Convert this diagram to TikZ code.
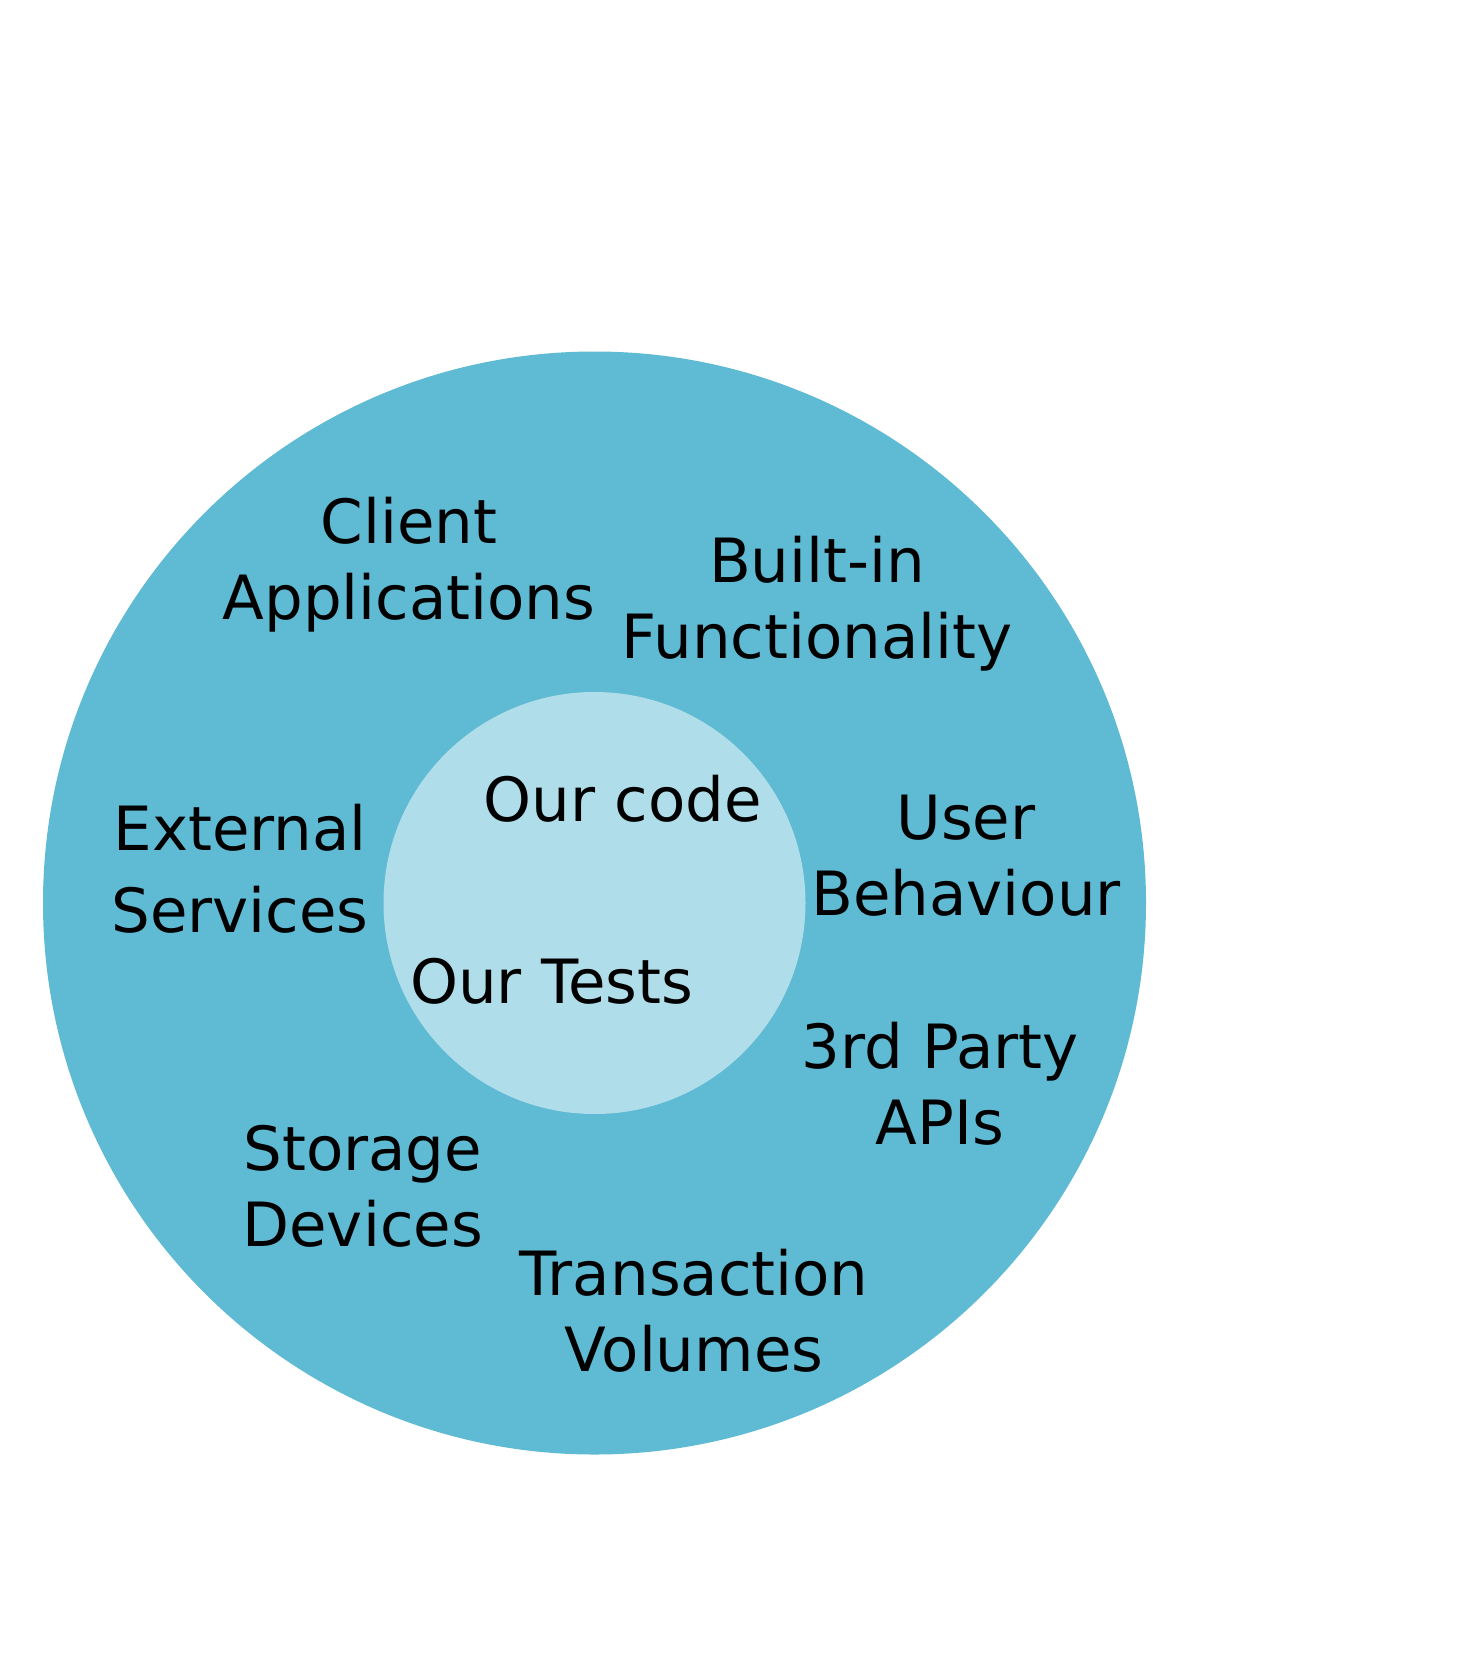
\documentclass[tikz,border=0pt]{standalone}
\usepackage{fontspec}
\setmainfont{DejaVu Sans}
\definecolor{ringblue}{HTML}{5FBAD3}
\definecolor{coreblue}{HTML}{AFDDE9}
\begin{document}
\begin{tikzpicture}[x=0.5pt,y=-0.5pt,
    every node/.style={font=\fontsize{30.5}{38}\selectfont,align=center,anchor=base,inner sep=0pt}]
  \useasboundingbox (0,0) rectangle (1457,1654);
  \fill[ringblue] (594.5,903) circle[radius=551.5];
  \fill[coreblue] (594.5,903) circle[radius=211];
  \draw
    (409,619) node (client){Client\\Applications}
    (817,658) node (builtin){Built-in\\Functionality}
    (240,932.7) node (external){External\\[3.3pt]Services}
    (622.5,821.7) node (code){Our code}
    (966,915) node (user){User\\Behaviour}
    (551.7,1003) node (tests){Our Tests}
    (940,1144) node (apis){3rd Party\\APIs}
    (362.7,1246) node (storage){Storage\\Devices}
    (694,1371) node (volumes){Transaction\\Volumes};
\end{tikzpicture}
\end{document}
